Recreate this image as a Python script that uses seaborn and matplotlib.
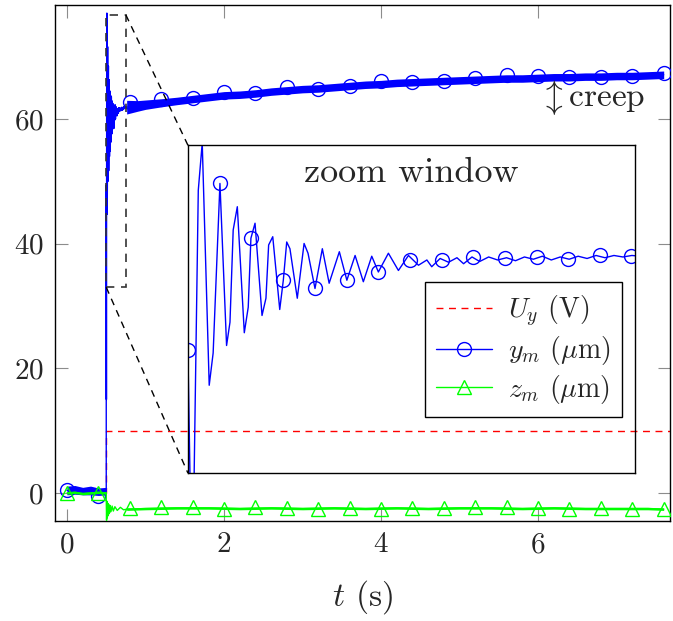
import matplotlib.pyplot as plt
import numpy as np
import seaborn as sns
from matplotlib.lines import Line2D
from matplotlib.patches import Rectangle

sns.set_style("ticks")
plt.rcParams['font.family'] = 'serif'
plt.rcParams['font.serif'] = ['cmr10', 'DejaVu Serif']
plt.rcParams['mathtext.fontset'] = 'cm'
plt.rcParams['axes.unicode_minus'] = False
plt.rcParams['axes.formatter.use_mathtext'] = True

# ---- data ----
# input voltage step U_y (V)
t_u = [0.0, 0.5, 0.5, 7.7]
u_y = [0.0, 0.0, 10.0, 10.0]

# y_m before the step: centre of the noisy band and half width
t_pre = [0.0, 0.1, 0.2, 0.3, 0.4, 0.4999]
ym_pre = [0.4, 0.5, 0.3, 0.4, 0.2, 0.3]
ym_pre_spread = [0.7, 0.7, 0.6, 0.7, 0.6, 0.6]

# y_m transient (as seen in the zoom window)
t_tr = [0.5000, 0.5024, 0.5058, 0.5080, 0.5119, 0.5141, 0.5179, 0.5216, 0.5235, 0.5253,
        0.5276, 0.5315, 0.5337, 0.5352, 0.5375, 0.5414, 0.5436, 0.5451, 0.5474, 0.5513,
        0.5533, 0.5552, 0.5570, 0.5611, 0.5649, 0.5671, 0.5710, 0.5751, 0.5789, 0.5846,
        0.5888, 0.5934, 0.5980, 0.6027, 0.6064, 0.6120, 0.6176, 0.6232, 0.6288, 0.6335,
        0.6362, 0.6409, 0.6456, 0.6503, 0.6540, 0.6587, 0.6630, 0.6680, 0.6730, 0.6780,
        0.6830, 0.6880, 0.6930, 0.6980, 0.7030, 0.7080, 0.7130, 0.7180, 0.7230, 0.7280,
        0.7330, 0.7380, 0.7430, 0.7480, 0.7530]
ym_tr = [49.4, 15.0, 70.7, 77.0, 44.7, 49.0, 71.6, 50.0, 53.1, 65.4,
         68.5, 51.7, 55.1, 64.3, 66.3, 54.0, 56.3, 63.4, 64.5, 54.8,
         58.7, 63.8, 62.9, 56.3, 63.6, 62.3, 57.6, 62.9, 58.3, 62.5,
         58.7, 62.0, 58.5, 61.9, 59.8, 62.3, 60.0, 62.0, 60.7, 61.4,
         60.5, 61.6, 61.1, 61.7, 60.9, 61.8, 61.2, 61.8, 61.4, 61.7,
         61.3, 61.8, 61.5, 61.9, 61.4, 61.8, 61.5, 61.9, 61.6, 62.0,
         61.7, 62.0, 61.8, 62.0, 61.9]

# y_m creep after the transient: centre of the band and half width
t_post = [0.76, 0.9, 1.0, 1.2, 1.4, 1.6, 1.8, 2.0, 2.2, 2.4, 2.6, 2.8, 3.0, 3.2, 3.4, 3.6,
          3.8, 4.0, 4.2, 4.4, 4.6, 4.8, 5.0, 5.2, 5.4, 5.6, 5.8, 6.0, 6.2, 6.4, 6.6, 6.8,
          7.0, 7.2, 7.4, 7.6]
ym_post = [61.9, 62.1, 62.3, 62.6, 62.9, 63.2, 63.5, 63.8, 63.9, 64.1, 64.4, 64.6, 64.8, 64.9,
           65.1, 65.3, 65.5, 65.6, 65.8, 65.9, 66.0, 66.1, 66.2, 66.3, 66.4, 66.5, 66.5, 66.6,
           66.7, 66.7, 66.8, 66.8, 66.9, 66.9, 67.0, 67.1]
ym_post_spread = [1.1, 0.85, 0.75, 0.65, 0.6, 0.6, 0.6, 0.6, 0.6, 0.6, 0.6, 0.6, 0.6,
                  0.6, 0.6, 0.6, 0.6, 0.6, 0.6, 0.6, 0.6, 0.6, 0.6, 0.6, 0.6,
                  0.6, 0.6, 0.6, 0.6, 0.6, 0.6, 0.6, 0.6, 0.6, 0.6, 0.6]

# z_m before the step, transient and afterwards
t_zpre = [0.0, 0.1, 0.2, 0.3, 0.4, 0.4999]
zm_pre = [0.0, 0.1, -0.1, 0.0, 0.1, 0.0]
t_ztr = [0.500, 0.504, 0.508, 0.512, 0.516, 0.520, 0.525, 0.530, 0.536, 0.542,
         0.550, 0.560, 0.575, 0.590, 0.610, 0.640, 0.680, 0.720]
zm_tr = [-1.0, -4.4, -1.3, -4.0, -1.6, -3.7, -1.7, -3.4, -1.9, -3.2,
         -2.0, -3.0, -2.1, -2.9, -2.2, -2.8, -2.3, -2.7]
t_zpost = [0.76, 1.0, 1.4, 1.8, 2.2, 2.6, 3.0, 3.4, 3.8, 4.2, 4.6, 5.0, 5.4, 5.8, 6.2,
           6.6, 7.0, 7.4, 7.6]
zm_post = [-2.6, -2.5, -2.4, -2.4, -2.5, -2.4, -2.5, -2.4, -2.5, -2.4, -2.5, -2.4, -2.4,
           -2.5, -2.4, -2.5, -2.5, -2.5, -2.6]
zm_spread = 0.2

# marker positions in the main plot
t_mk = [0.0, 0.4, 0.8, 1.2, 1.6, 2.0, 2.4, 2.8, 3.2, 3.6, 4.0, 4.4, 4.8, 5.2, 5.6, 6.0,
        6.4, 6.8, 7.2, 7.6]
ym_mk = [0.5, -0.5, 62.7, 63.2, 63.4, 64.3, 64.2, 65.2, 64.8, 65.3, 66.1, 65.9, 66.1, 66.6,
         67.0, 66.9, 66.8, 66.8, 66.9, 67.4]
zm_mk = [0.0, 0.0, -2.4, -2.2, -2.3, -2.5, -2.2, -2.4, -2.5, -2.4, -2.5, -2.4, -2.4, -2.3,
         -2.3, -2.4, -2.5, -2.4, -2.5, -2.6]

# marker positions inside the zoom window
t_mk_zoom = [0.5000, 0.5179, 0.5352, 0.5533, 0.5710, 0.5888, 0.6064, 0.6242, 0.6421,
             0.6594, 0.6773, 0.6952, 0.7125, 0.7304, 0.7478]
ym_mk_zoom = [49.4, 71.6, 64.3, 58.7, 57.6, 58.7, 59.8, 61.4, 61.4, 61.8, 61.6, 61.8,
              61.5, 62.0, 61.9]

zoom_t = (0.5, 0.75)
zoom_y = (33.0, 76.7)

t_ym = np.concatenate([t_pre, t_tr, t_post])
ym = np.concatenate([ym_pre, ym_tr, ym_post])
t_zm = np.concatenate([t_zpre, t_ztr, t_zpost])
zm = np.concatenate([zm_pre, zm_tr, zm_post])

blue = (0, 0, 1)
green = (0, 1, 0)
red = (1, 0, 0)

fig, ax = plt.subplots(figsize=(6.73, 6.21), dpi=100)
fig.subplots_adjust(left=0.0817, right=0.9955, top=0.992, bottom=0.161)

# U_y
sns.lineplot(x=t_u, y=u_y, ax=ax, color=red, lw=1, linestyle=(0, (5, 4)),
             estimator=None, sort=False, zorder=2)

# y_m with its noise band
ax.fill_between(t_pre, np.array(ym_pre) - ym_pre_spread, np.array(ym_pre) + ym_pre_spread,
                color=blue, lw=0, zorder=3)
ax.fill_between(t_post, np.array(ym_post) - ym_post_spread, np.array(ym_post) + ym_post_spread,
                color=blue, lw=0, zorder=3)
sns.lineplot(x=t_ym, y=ym, ax=ax, color=blue, lw=1, estimator=None, sort=False, zorder=3)
sns.lineplot(x=t_mk, y=ym_mk, ax=ax, linestyle='', marker='o', ms=10, mfc='none',
             mec=blue, mew=1, estimator=None, sort=False, zorder=3)

# z_m with its noise band
ax.fill_between(t_zpre, np.array(zm_pre) - zm_spread, np.array(zm_pre) + zm_spread,
                color=green, lw=0, zorder=4)
ax.fill_between(t_zpost, np.array(zm_post) - zm_spread, np.array(zm_post) + zm_spread,
                color=green, lw=0, zorder=4)
sns.lineplot(x=t_zm, y=zm, ax=ax, color=green, lw=1, estimator=None, sort=False, zorder=4)
sns.lineplot(x=t_mk, y=zm_mk, ax=ax, linestyle='', marker='^', ms=10, mfc='none',
             mec=green, mew=1, estimator=None, sort=False, zorder=4)

ax.set_xlim(-0.153, 7.68)
ax.set_ylim(-4.5, 78.3)
ax.set_xticks([0, 2, 4, 6])
ax.set_yticks([0, 20, 40, 60])
ax.tick_params(direction='in', length=9, width=0.8, color='0.55', top=True, right=True,
               labelsize=21, pad=8)
for s in ax.spines.values():
    s.set_linewidth(1.0)
    s.set_color('black')
ax.set_xlabel('$t$ (s)', fontsize=24, labelpad=14)
ax.set_ylabel('')

# zoom rectangle
ax.add_patch(Rectangle((zoom_t[0], zoom_y[0]), zoom_t[1] - zoom_t[0], zoom_y[1] - zoom_y[0],
                       fill=False, ec='0.2', lw=1.2, ls=(0, (5, 4)), zorder=5))

# inset
inset_box = [1.54, 3.2, 5.7, 52.6]
ax_in = ax.inset_axes(inset_box, transform=ax.transData)
ax_in.set_facecolor('none')
sns.lineplot(x=t_ym, y=ym, ax=ax_in, color=blue, lw=1, estimator=None, sort=False)
sns.lineplot(x=t_mk_zoom, y=ym_mk_zoom, ax=ax_in, linestyle='', marker='o', ms=10,
             mfc='none', mec=blue, mew=1, estimator=None, sort=False)
ax_in.set_xlim(*zoom_t)
ax_in.set_ylim(*zoom_y)
ax_in.set_xticks([])
ax_in.set_yticks([])
ax_in.set_xlabel('')
ax_in.set_ylabel('')
for s in ax_in.spines.values():
    s.set_linewidth(1.0)
    s.set_color('black')
ax_in.text(0.5, 0.915, 'zoom window', transform=ax_in.transAxes, ha='center', va='center',
           fontsize=26)

# connectors from the rectangle to the inset
ax.plot([zoom_t[1], inset_box[0]], [zoom_y[1], inset_box[1] + inset_box[3]],
        color='black', lw=1, ls=(0, (5, 4)), zorder=5)
ax.plot([zoom_t[0], inset_box[0]], [zoom_y[0], inset_box[1]],
        color='black', lw=1, ls=(0, (5, 4)), zorder=5)

# creep note
ax.text(6.02, 63.4, r'$\updownarrow$creep', fontsize=24, ha='left', va='center')

handles = [
    Line2D([], [], color=red, lw=1, ls=(0, (5, 4))),
    Line2D([], [], color=blue, lw=1, marker='o', ms=10, mfc='none', mec=blue),
    Line2D([], [], color=green, lw=1, marker='^', ms=10, mfc='none', mec=green),
]
labels = ['$U_y$ (V)', r'$y_m$ ($\mu$m)', r'$z_m$ ($\mu$m)']
leg = ax.legend(handles, labels, loc='lower right', bbox_to_anchor=(0.922, 0.2016),
                fontsize=20, frameon=True, fancybox=False, framealpha=1, edgecolor='black',
                handlelength=2.0, handletextpad=0.6, labelspacing=0.2, borderpad=0.4,
                borderaxespad=0)
leg.get_frame().set_linewidth(1.0)
leg.set_zorder(10)

fig.savefig('out.png', dpi=100)
